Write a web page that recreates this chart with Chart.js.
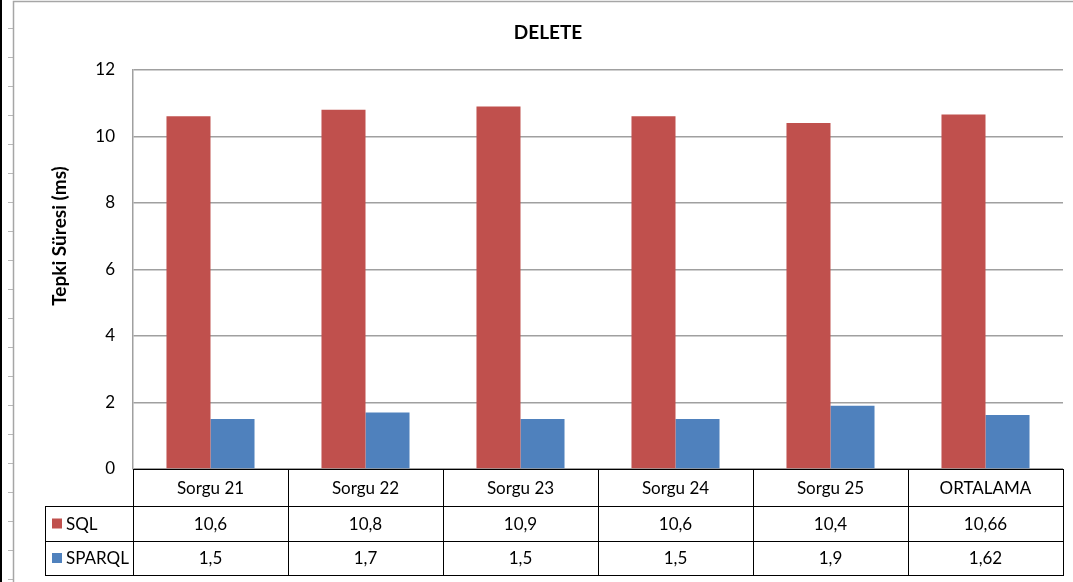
<!DOCTYPE html>
<html>
<head>
<meta charset="utf-8">
<script src="https://cdn.jsdelivr.net/npm/chart.js@4.4.1/dist/chart.umd.min.js"></script>
<style>
    html, body { margin: 0; padding: 0; background: #fff; }
    #wrap { width: 1073px; height: 582px; }
</style>
</head>
<body>
<div id="wrap"><canvas id="bar_chart"></canvas></div>
<script>
var categories = ["Sorgu 21", "Sorgu 22", "Sorgu 23", "Sorgu 24", "Sorgu 25", "ORTALAMA"];
var sqlValues = [10.6, 10.8, 10.9, 10.6, 10.4, 10.66];
var sparqlValues = [1.5, 1.7, 1.5, 1.5, 1.9, 1.62];
var seriesNames = ["SQL", "SPARQL"];
var seriesColors = ["#C0504D", "#4F81BD"];

var FONT = "Lato, 'Open Sans', sans-serif";

function fmt(v) {
    return String(v).replace('.', ',');
}

// frame + data table under the plot, like the excel chart
var tablePlugin = {
    id: 'dataTable',
    beforeDraw: function (chart) {
        var ctx = chart.ctx;
        ctx.save();
        ctx.fillStyle = '#fff';
        ctx.fillRect(0, 0, chart.width, chart.height);
        // sheet edge
        ctx.fillStyle = '#000';
        ctx.fillRect(0, 0, 2, chart.height);
        ctx.strokeStyle = '#b8b8b8';
        ctx.lineWidth = 1;
        for (var y = 28.5; y < chart.height; y += 29) {
            ctx.beginPath();
            ctx.moveTo(8, y);
            ctx.lineTo(13, y);
            ctx.stroke();
        }
        ctx.strokeStyle = '#a6a6a6';
        ctx.lineWidth = 1.5;
        ctx.beginPath();
        ctx.moveTo(13.5, chart.height);
        ctx.lineTo(13.5, 1.5);
        ctx.lineTo(chart.width, 1.5);
        ctx.stroke();
        ctx.restore();
    },
    afterDraw: function (chart) {
        var ctx = chart.ctx;
        var area = chart.chartArea;
        var n = categories.length;
        var colW = (area.right - area.left) / n;
        var top = area.bottom;
        var rows = [top, top + 37, top + 72, top + 106];
        var labelLeft = 45;

        ctx.save();
        ctx.strokeStyle = '#000';
        ctx.lineWidth = 1;

        // horizontal lines
        ctx.beginPath();
        ctx.moveTo(area.left, rows[0] + 0.5);
        ctx.lineTo(area.right, rows[0] + 0.5);
        for (var r = 1; r < rows.length; r++) {
            ctx.moveTo(labelLeft, rows[r] + 0.5);
            ctx.lineTo(area.right, rows[r] + 0.5);
        }
        // vertical lines
        for (var i = 0; i <= n; i++) {
            var x = Math.round(area.left + i * colW) + 0.5;
            ctx.moveTo(x, rows[0]);
            ctx.lineTo(x, rows[3] + 1);
        }
        ctx.moveTo(labelLeft + 0.5, rows[1]);
        ctx.lineTo(labelLeft + 0.5, rows[3] + 1);
        ctx.stroke();

        ctx.fillStyle = '#000';
        ctx.font = '17px ' + FONT;
        ctx.textAlign = 'center';
        ctx.textBaseline = 'middle';
        var series = [sqlValues, sparqlValues];
        for (var c = 0; c < n; c++) {
            var cx = area.left + (c + 0.5) * colW;
            ctx.fillText(categories[c], cx, (rows[0] + rows[1]) / 2 + 1);
            for (var s = 0; s < series.length; s++) {
                ctx.fillText(fmt(series[s][c]), cx, (rows[s + 1] + rows[s + 2]) / 2 + 1);
            }
        }

        // legend keys in the first column
        ctx.textAlign = 'left';
        for (var k = 0; k < seriesNames.length; k++) {
            var my = (rows[k + 1] + rows[k + 2]) / 2;
            ctx.fillStyle = seriesColors[k];
            ctx.fillRect(52, my - 5, 10, 10);
            ctx.fillStyle = '#000';
            ctx.fillText(seriesNames[k], 66, my + 1);
        }

        // y axis title
        ctx.font = 'bold 19px ' + FONT;
        ctx.textAlign = 'center';
        ctx.translate(60, 236);
        ctx.rotate(-Math.PI / 2);
        ctx.fillText('Tepki Süresi (ms)', 0, 0);
        ctx.restore();
    }
};

new Chart(document.getElementById("bar_chart").getContext("2d"), {
    type: 'bar',
    data: {
        labels: categories,
        datasets: [{
            label: seriesNames[0],
            data: sqlValues,
            backgroundColor: seriesColors[0]
        }, {
            label: seriesNames[1],
            data: sparqlValues,
            backgroundColor: seriesColors[1]
        }]
    },
    options: {
        responsive: true,
        maintainAspectRatio: false,
        animation: false,
        layout: {
            padding: { left: 33, right: 10, top: 0, bottom: 113 }
        },
        datasets: {
            bar: {
                categoryPercentage: 0.568,
                barPercentage: 1
            }
        },
        scales: {
            x: {
                display: false
            },
            y: {
                min: 0,
                max: 12,
                ticks: {
                    stepSize: 2,
                    padding: 18,
                    color: '#000',
                    font: { family: FONT, size: 17 }
                },
                grid: {
                    color: '#a0a0a0',
                    lineWidth: 1.5,
                    drawTicks: false
                },
                border: {
                    color: '#a0a0a0',
                    width: 1.5
                },
                afterFit: function (scale) {
                    scale.width = 100;
                }
            }
        },
        plugins: {
            legend: { display: false },
            tooltip: { enabled: false },
            title: {
                display: true,
                text: 'DELETE',
                color: '#000',
                font: { family: FONT, size: 19, weight: 'bold' },
                padding: { top: 21, bottom: 26 }
            }
        }
    },
    plugins: [tablePlugin]
});
</script>
</body>
</html>
